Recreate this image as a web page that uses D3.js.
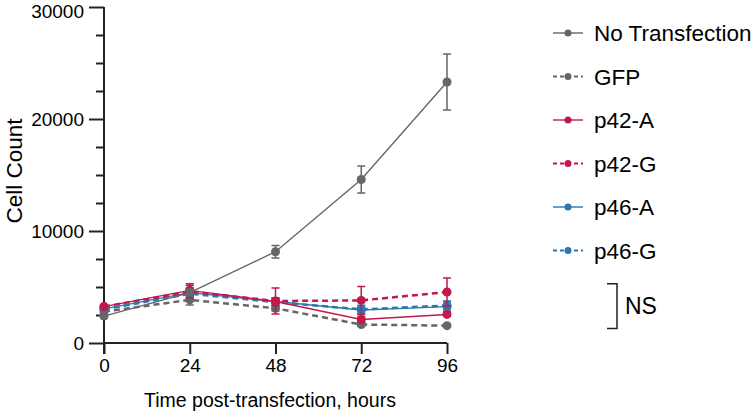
<!DOCTYPE html>
<html><head><meta charset="utf-8">
<script src="https://cdn.jsdelivr.net/npm/d3@7"></script>
<style>body{margin:0;background:#fff}svg{display:block}text{font-family:"Liberation Sans",Arial,sans-serif;fill:#000}</style>
</head><body><svg id="c" width="752" height="419"></svg>
<script>
const hours = [0, 24, 48, 72, 96];
const seriesNames = ["No Transfection", "GFP", "p42-A", "p42-G", "p46-A", "p46-G"];
const noTransfection = [2400, 4500, 8150, 14600, 23300];
const noTransfectionErr = [150, 300, 550, 1200, 2500];
const gfp = [2800, 3850, 3100, 1650, 1550];
const gfpErr = [150, 450, 250, 150, 100];
const p42A = [3250, 4700, 3700, 2100, 2550];
const p42AErr = [150, 600, 350, 200, 150];
const p42G = [3250, 4600, 3750, 3800, 4550];
const p42GErr = [150, 550, 1150, 1250, 1250];
const p46A = [3050, 4500, 3700, 2950, 3250];
const p46AErr = [150, 450, 300, 400, 450];
const p46G = [3000, 4400, 3650, 3000, 3350];
const p46GErr = [150, 450, 300, 350, 400];
const yTicks = [0, 10000, 20000, 30000];

const colors = ["#666666", "#666666", "#c2184a", "#c2184a", "#2a78b0", "#2a78b0"];
const dashed = [false, true, false, true, false, true];
const values = [noTransfection, gfp, p42A, p42G, p46A, p46G];
const errs = [noTransfectionErr, gfpErr, p42AErr, p42GErr, p46AErr, p46GErr];

const svg = d3.select("#c");
const x = d3.scaleLinear().domain([0, 96]).range([104, 447]);
const y = d3.scaleLinear().domain([0, 30000]).range([343, 7]);

// axes
const yAxis = d3.axisLeft(y).tickValues(d3.range(0, 30001, 2500)).tickSize(15).tickPadding(5)
  .tickFormat(d => yTicks.includes(d) ? d : "");
const gy = svg.append("g").attr("transform", `translate(${x(0)},0)`).call(yAxis);
gy.select(".domain").attr("d", `M0,${y(30000)}V${y(0) + 11}`);
gy.selectAll(".tick").filter(d => !yTicks.includes(d)).select("line").attr("x2", -8);
gy.selectAll(".tick").filter(d => d === 30000).select("text").attr("dy", "0.53em");
const xAxis = d3.axisBottom(x).tickValues(hours).tickSize(11).tickPadding(5);
const gx = svg.append("g").attr("transform", `translate(0,${y(0)})`).call(xAxis);
gx.select(".domain").attr("d", `M${x(0)},0H${x(96)}`);
[gx, gy].forEach(g => {
  g.select(".domain").attr("stroke", "#222").attr("stroke-width", 2);
  g.selectAll(".tick line").attr("stroke", "#222").attr("stroke-width", 2);
  g.selectAll("text").attr("font-size", 19).attr("font-family", "Liberation Sans, Arial").attr("fill", "#111");
});

svg.append("text").attr("x", 270).attr("y", 407).attr("text-anchor", "middle")
  .attr("font-size", 19.5).text("Time post-transfection, hours");
svg.append("text").attr("transform", `translate(22,171) rotate(-90)`).attr("text-anchor", "middle")
  .attr("font-size", 22.5).text("Cell Count");

const order = [1, 4, 5, 2, 3, 0];
order.forEach(i => {
  const g = svg.append("g");
  const data = hours.map((h, k) => ({h, v: values[i][k], e: errs[i][k]}));
  g.selectAll("path.eb").data(data).enter().append("path")
    .attr("d", d => `M${x(d.h)},${y(d.v - d.e)}V${y(d.v + d.e)}M${x(d.h) - 4},${y(d.v + d.e)}h8M${x(d.h) - 4},${y(d.v - d.e)}h8`)
    .attr("stroke", colors[i]).attr("stroke-width", 1.5).attr("fill", "none");
  g.append("path").datum(data)
    .attr("d", d3.line().x(d => x(d.h)).y(d => y(d.v)))
    .attr("fill", "none").attr("stroke", colors[i])
    .attr("stroke-width", dashed[i] ? 2.5 : 1.4)
    .attr("stroke-dasharray", dashed[i] ? "6,4" : null);
  g.selectAll("circle").data(data).enter().append("circle")
    .attr("cx", d => x(d.h)).attr("cy", d => y(d.v)).attr("r", 4.5).attr("fill", colors[i]);
});

// legend
seriesNames.forEach((name, i) => {
  const ly = 33 + i * 43.5;
  const g = svg.append("g");
  g.append("line").attr("x1", 553).attr("x2", 583).attr("y1", ly).attr("y2", ly)
    .attr("stroke", colors[i]).attr("stroke-width", dashed[i] ? 2 : 1.4)
    .attr("stroke-dasharray", dashed[i] ? "4,3" : null);
  g.append("circle").attr("cx", 568).attr("cy", ly).attr("r", 3.5).attr("fill", colors[i]);
  g.append("text").attr("x", 594).attr("y", ly).attr("dy", "0.36em").attr("font-size", 22.5).text(name);
});

// NS bracket
svg.append("path").attr("d", `M607,${y(5300)}H617V${y(1300)}H607`).attr("fill", "none")
  .attr("stroke", "#222").attr("stroke-width", 1.5);
svg.append("text").attr("x", 625).attr("y", y(3300)).attr("dy", "0.36em").attr("font-size", 23).text("NS");
</script></body></html>
